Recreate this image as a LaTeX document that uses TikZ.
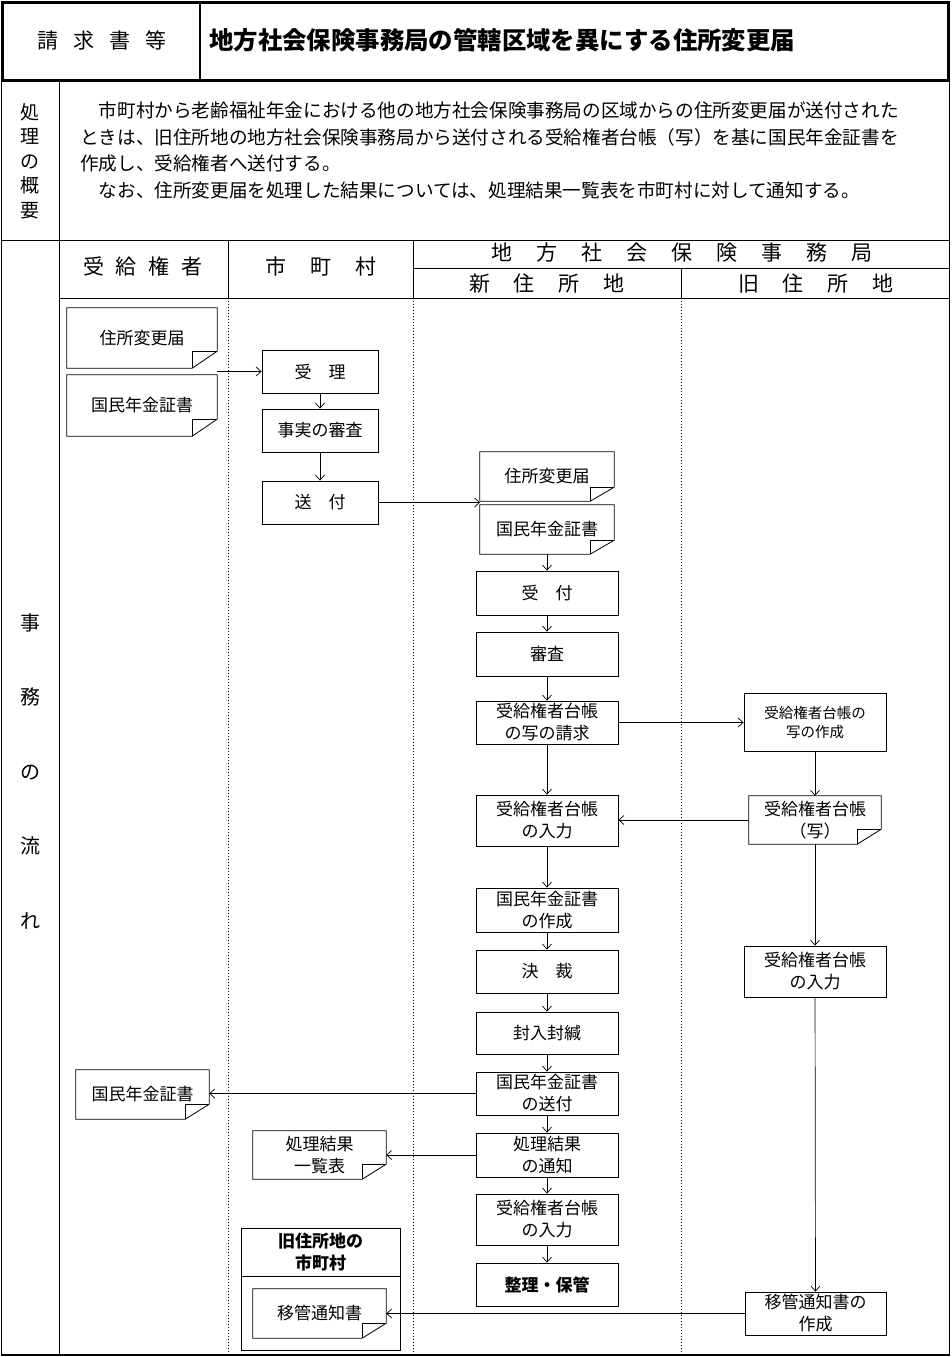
\documentclass[tikz,border=0pt]{standalone}
\usepackage{fontspec}
\setmainfont{Noto Sans CJK JP}
\usetikzlibrary{arrows.meta}
\newcommand\fs[2]{\fontsize{#1}{#2}\selectfont}
\newcommand\foldoc[3]{%
 \draw[line width=0.8pt] (#1.north west) -- (#1.north east) -- ([yshift=#3]#1.south east) -- ([xshift=-#2]#1.south east) -- (#1.south west) -- cycle;
 \draw[line width=0.8pt] ([xshift=-#2]#1.south east) -- ([xshift=-#2,yshift=#3]#1.south east) -- ([yshift=#3]#1.south east);}
\tikzset{
 box/.style={draw, line width=0.8pt, inner sep=0pt, align=center, font=\fs{17}{22}},
 doc/.style={inner sep=0pt, align=center, font=\fs{17}{22}},
 arr/.style={line width=0.7pt, -{Straight Barb[length=5pt,width=9pt]}},
 frame/.style={line width=1pt},
 lane/.style={line width=0.8pt, dash pattern=on 1pt off 2pt},
 lbl/.style={inner sep=0pt, align=center}
}
\begin{document}
\begin{tikzpicture}[x=1pt,y=-1pt]
\useasboundingbox (0,0) rectangle (951,1357);
% ---- top box
\draw[line width=3pt] (2.5,2.5) rectangle (948,80);
\draw[line width=2.5pt] (200,2.5) -- (200,80);
\node[lbl, font=\fs{21}{24}] (t1) at (102,40) {請\hspace{15pt}求\hspace{15pt}書\hspace{15pt}等};
\node[lbl, anchor=west, font=\fs{24.4}{28}\bfseries] (t2) at (209,40) {地方社会保険事務局の管轄区域を異にする住所変更届};
% ---- frame
\draw[frame] (1.5,80) -- (1.5,1355);
\draw[frame] (949,80) -- (949,1355);
\draw[line width=1.6pt] (1,1355) -- (950,1355);
\draw[frame] (59,80) -- (59,1355);
\draw[frame] (1.5,240) -- (949,240);
\draw[frame] (228,240) -- (228,298);
\draw[frame] (413,240) -- (413,298);
\draw[frame] (413,268) -- (949,268);
\draw[frame] (681,268) -- (681,298);
\draw[frame] (59,298) -- (949,298);
\draw[lane] (228,298) -- (228,1355);
\draw[lane] (413,298) -- (413,1355);
\draw[lane] (681,298) -- (681,1355);
% ---- summary
\node[lbl, font=\fs{19}{24.5}] (s0) at (30,161) {処\\理\\の\\概\\要};
\node[lbl, anchor=west, font=\fs{18.6}{27}] (p1) at (80,110) {　市町村から老齢福祉年金における他の地方社会保険事務局の区域からの住所変更届が送付された};
\node[lbl, anchor=west, font=\fs{18.6}{27}] (p2) at (80,137) {ときは、旧住所地の地方社会保険事務局から送付される受給権者台帳（写）を基に国民年金証書を};
\node[lbl, anchor=west, font=\fs{18.6}{27}] (p3) at (80,163) {作成し、受給権者へ送付する。};
\node[lbl, anchor=west, font=\fs{18.6}{27}] (p4) at (80,190) {　なお、住所変更届を処理した結果については、処理結果一覧表を市町村に対して通知する。};
% ---- flow labels
\node[lbl, font=\fs{20}{74.5}] (f0) at (30,771) {事\\務\\の\\流\\れ};
\node[lbl, font=\fs{21}{24}] (h1) at (143,266) {受\hspace{12pt}給\hspace{12pt}権\hspace{12pt}者};
\node[lbl, font=\fs{21}{24}] (h2) at (321,266) {市\hspace{24pt}町\hspace{24pt}村};
\node[lbl, font=\fs{21}{24}] (h3) at (682,253) {地\hspace{24pt}方\hspace{24pt}社\hspace{24pt}会\hspace{24pt}保\hspace{24pt}険\hspace{24pt}事\hspace{24pt}務\hspace{24pt}局};
\node[lbl, font=\fs{21}{24}] (h4) at (547,284) {新\hspace{24pt}住\hspace{24pt}所\hspace{24pt}地};
\node[lbl, font=\fs{21}{24}] (h5) at (816,284) {旧\hspace{24pt}住\hspace{24pt}所\hspace{24pt}地};
% ---- lane 1 docs
\node[doc, minimum width=150pt, minimum height=60pt] (dA) at (142,338) {住所変更届};
\node[doc, minimum width=150pt, minimum height=61pt] (dB) at (142,405.5) {国民年金証書};
\foldoc{dA}{25pt}{17pt}
\foldoc{dB}{25pt}{17pt}
\node[doc, minimum width=133pt, minimum height=49pt] (dE) at (142.5,1094.5) {国民年金証書};
\foldoc{dE}{24pt}{15pt}
% ---- lane 2
\node[box, minimum width=116pt, minimum height=43pt] (juri) at (320,371.5) {受\hspace{1em}理};
\node[box, minimum width=116pt, minimum height=43pt] (jshin) at (320,430.5) {事実の審査};
\node[box, minimum width=116pt, minimum height=43pt] (sofu1) at (320,502.5) {送\hspace{1em}付};
\node[doc, minimum width=133pt, minimum height=48pt] (dF) at (319.5,1155) {処理結果\\一覧表};
\foldoc{dF}{24pt}{15pt}
\draw[line width=0.8pt] (241,1228) rectangle (400,1350);
\draw[line width=0.8pt] (241,1276) -- (400,1276);
\node[lbl, font=\fs{17}{22}\bfseries] (kyu) at (320.5,1252) {旧住所地の\\市町村};
\node[doc, minimum width=133pt, minimum height=49pt] (dG) at (319.5,1313.5) {移管通知書};
\foldoc{dG}{24pt}{15pt}
% ---- lane 3
\node[doc, minimum width=134pt, minimum height=49pt] (dC) at (547,476.5) {住所変更届};
\node[doc, minimum width=134pt, minimum height=49pt] (dD) at (547,529.5) {国民年金証書};
\foldoc{dC}{24pt}{14pt}
\foldoc{dD}{24pt}{14pt}
\node[box, minimum width=142pt, minimum height=44pt] (uke) at (547,593) {受\hspace{1em}付};
\node[box, minimum width=142pt, minimum height=44pt] (shin) at (547,654) {審査};
\node[box, minimum width=142pt, minimum height=43pt] (seik) at (547,722.5) {受給権者台帳\\の写の請求};
\node[box, minimum width=142pt, minimum height=51pt] (nyu1) at (547,820.5) {受給権者台帳\\の入力};
\node[box, minimum width=142pt, minimum height=44pt] (saku) at (547,910) {国民年金証書\\の作成};
\node[box, minimum width=142pt, minimum height=43pt] (kess) at (547,971.5) {決\hspace{1em}裁};
\node[box, minimum width=142pt, minimum height=42pt] (funy) at (547,1033) {封入封緘};
\node[box, minimum width=142pt, minimum height=43pt] (sofu2) at (547,1093.5) {国民年金証書\\の送付};
\node[box, minimum width=142pt, minimum height=44pt] (tsu) at (547,1155) {処理結果\\の通知};
\node[box, minimum width=142pt, minimum height=51pt] (nyu2) at (547,1219.5) {受給権者台帳\\の入力};
\node[box, minimum width=142pt, minimum height=43pt, font=\fs{17}{22}\bfseries] (seiri) at (547,1284.5) {整理・保管};
% ---- lane 4
\node[box, minimum width=142pt, minimum height=58pt, font=\fs{14.5}{19}] (usak) at (815,722) {受給権者台帳の\\写の作成};
\node[doc, minimum width=132pt, minimum height=48pt] (udoc) at (815,820) {受給権者台帳\\（写）};
\foldoc{udoc}{24pt}{15pt}
\node[box, minimum width=142pt, minimum height=51pt] (nyu4) at (815,971.5) {受給権者台帳\\の入力};
\node[box, minimum width=141pt, minimum height=43pt] (ikan) at (815.5,1313.5) {移管通知書の\\作成};
% ---- connectors
\coordinate (c1) at (217,371.5);
\coordinate (c2) at (480,502.5);
\draw[arr] (c1) -- (juri.west);
\draw[arr] (juri) -- (jshin);
\draw[arr] (jshin) -- (sofu1);
\draw[arr] (sofu1.east) -- (c2);
\draw[arr] (dD) -- (uke);
\draw[arr] (uke) -- (shin);
\draw[arr] (shin) -- (seik);
\draw[arr] (seik) -- (nyu1);
\draw[arr] (nyu1) -- (saku);
\draw[arr] (saku) -- (kess);
\draw[arr] (kess) -- (funy);
\draw[arr] (funy) -- (sofu2);
\draw[arr] (sofu2) -- (tsu);
\draw[arr] (tsu) -- (nyu2);
\draw[arr] (nyu2) -- (seiri);
\draw[arr] (seik.east) -- (usak.west |- seik.east);
\draw[arr] (usak) -- (udoc);
\draw[arr] (udoc.west) -- (nyu1.east |- udoc.west);
\draw[arr] (udoc) -- (nyu4);
\draw[arr] (nyu4) -- (ikan);
\draw[arr] (sofu2.west) -- (dE.east |- sofu2.west);
\draw[arr] (tsu.west) -- (dF.east |- tsu.west);
\draw[arr] (ikan.west) -- (dG.east |- ikan.west);
\end{tikzpicture}
\end{document}
